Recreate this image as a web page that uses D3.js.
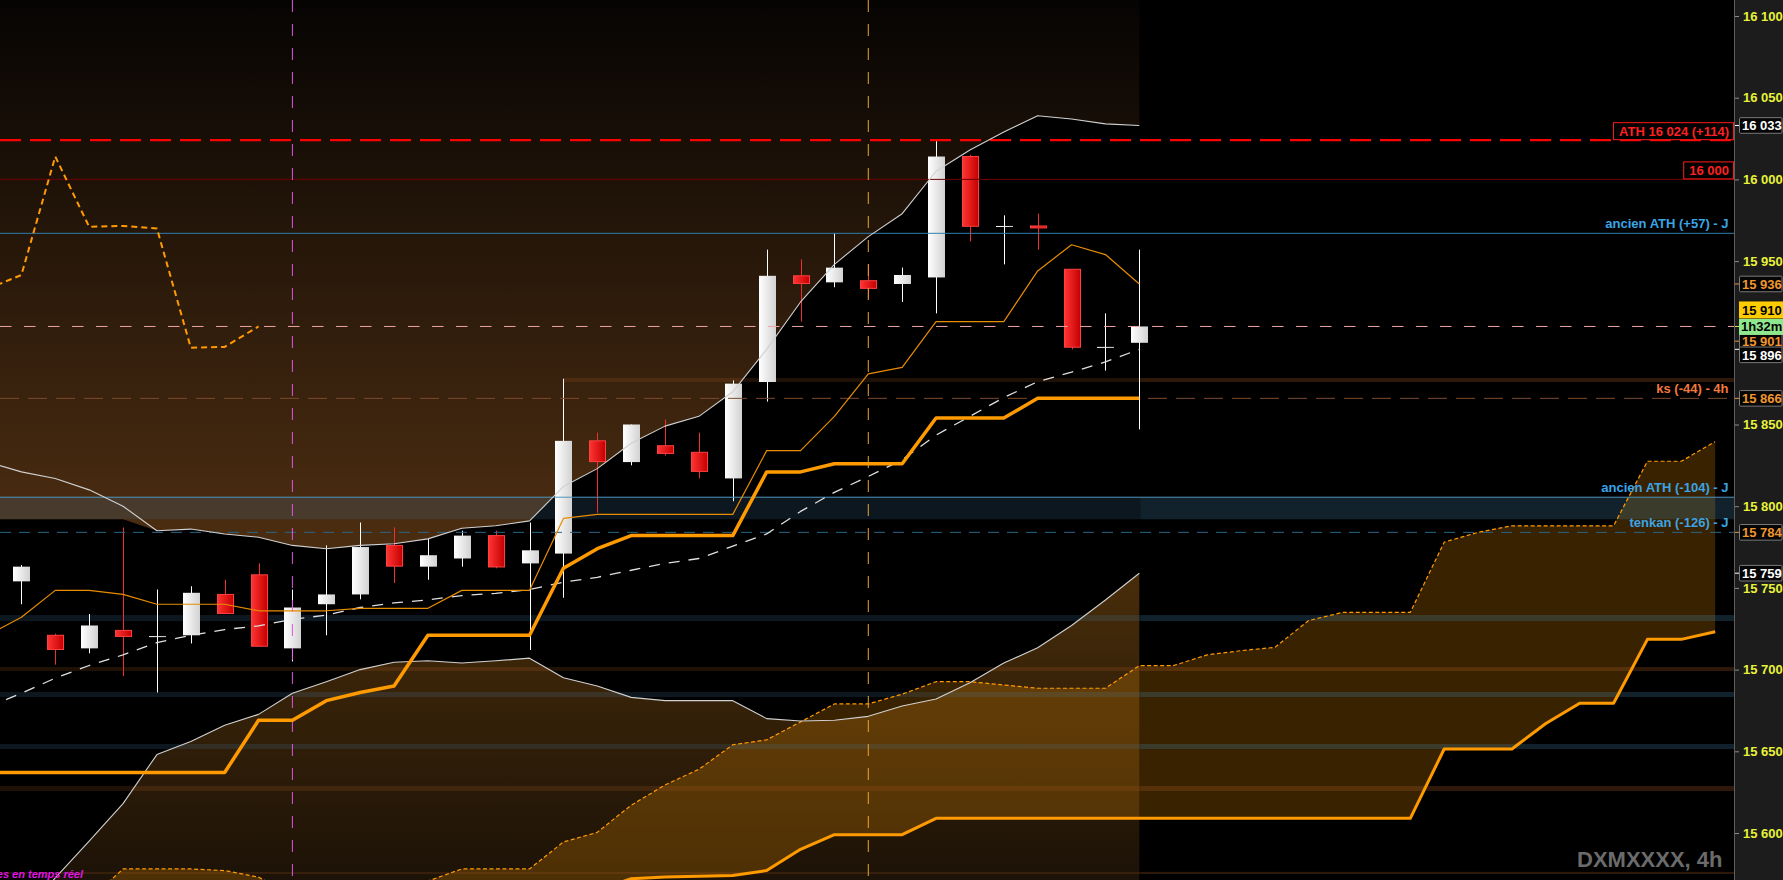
<!DOCTYPE html>
<html><head><meta charset="utf-8">
<script src="https://cdn.jsdelivr.net/npm/d3@7"></script>
<style>
html,body{margin:0;padding:0;background:#000;overflow:hidden}
svg{display:block}
text{font-family:"Liberation Sans",Arial,sans-serif;font-weight:bold}
</style></head><body>
<svg id="chart" width="1783" height="880"></svg>
<script>
// ---------- DATA (4h candles, index 0..33) ----------
const candleOpen  = [15754,15721,15713,15724,15720,15721,15746,15758,15713,15740,15746,15776,15763,15768,15782,15765,15771,15840,15827,15837,15833,15817,15876,15941,15937,15938,15936,15940,16014,15971,15971.5,15945,15897,15900];
const candleHigh  = [15764,15722,15734,15787,15749,15751,15755,15765,15749,15776,15790,15787,15780,15785,15785,15790,15878,15845,15850,15853,15845,15877,15957,15951,15967,15948,15946,16024,16015,15978,15979,15945,15918,15957];
const candleLow   = [15740,15703,15710,15696,15686,15716,15734,15714,15705,15721,15743,15753,15755,15763,15762,15712,15744,15796,15825,15831,15817,15803,15864,15913,15934,15927,15925,15918,15962,15948,15957,15896,15883,15847];
const candleClose = [15763,15712,15727,15720,15720.5,15747,15734,15714,15738,15746,15775,15763,15770,15782,15762.5,15773,15840,15827,15850,15832,15821,15875,15941,15936,15946,15933,15941.5,16014,15971,15971.5,15970,15897,15897.5,15910];

// Bollinger bands, index -1..33
const bbUpper  = [15827,15821,15817,15810,15800,15785,15786,15783,15781,15776,15774,15776,15777,15780,15786.5,15788,15791,15812,15823,15838.5,15849,15855,15870,15896,15925,15948,15965,15979,16005,16018,16029,16039,16037,16034,16033];
const bbMiddle = [15677,15685.5,15694.8,15702.5,15709,15716.5,15721,15724.5,15726.8,15730.8,15733.3,15738,15740.8,15742.7,15745.3,15746.7,15749,15753.5,15756.5,15760.8,15765,15768,15775.5,15783,15796.8,15808.5,15818.2,15828.4,15843.5,15855,15866.5,15876.2,15882,15888.3,15896];
const bbLower  = [15527,15550,15572.5,15595,15618,15648,15656,15666,15672.6,15685.5,15692.6,15700,15704.5,15705.4,15704,15705.4,15707,15695,15690,15683,15681,15681,15681,15670,15668.5,15669,15671.4,15677.7,15682,15692,15704,15713.4,15727,15742.6,15759];
// upper shaded area floor, index -1..3
const upperFillFloor = [15792,15792,15792,15792,15792];

// Ichimoku
const tenkan = [15721,15732,15748.5,15748.5,15746,15740,15740,15740,15736,15736,15736,15737.5,15737.5,15737.5,15748.5,15748.5,15748.5,15792.5,15795,15795,15795,15795,15795,15834,15834,15855,15881,15885,15913,15913,15913,15944,15960,15954,15936]; // -1..33
const kijun  = [15637,15637,15637,15637,15637,15637,15637,15637,15669,15669,15681,15686,15690,15721,15721,15721,15721,15762,15774,15782,15782,15782,15782,15821,15821,15826,15826,15826,15854,15854,15854,15866,15866,15866,15866]; // -1..33
const chikou = [15933,15941.5,16014,15971,15971.5,15970,15897,15897.5,15910]; // -1..7
const senkouA = [15559,15578,15578,15578,15577,15573,15562,15555,15552,15558,15570.6,15578,15578,15578,15594.5,15600.4,15617,15629.4,15639,15654,15657,15668,15679,15679,15685,15692.6,15692.6,15690.6,15688.6,15688.6,15688.6,15702.4,15702.4,15709,15711.6,15713.6,15730,15735,15735,15735,15778,15784,15788,15788,15788,15788,15827.5,15827.5,15839.5]; // 2..50
const senkouB = [15565,15572,15573,15573.5,15574,15577,15590,15599,15599,15599,15609,15609,15609,15609,15609,15609,15609,15609,15609,15609,15609,15609,15609,15609,15609,15651.4,15651.4,15651.4,15667,15679.4,15679.4,15718.5,15718.5,15723.2]; // 17..50

const priceTicks = [16100,16050,16000,15950,15850,15800,15750,15700,15650,15600];

// horizontal zones [low, high, kind, fromIndex]
const zoneLow  = [15792,15876,15729.7,15699.1,15683.2,15651.4,15625.7,15574.9];
const zoneHigh = [15805.5,15878.5,15733.4,15701.6,15686.3,15654.5,15628.8,15576.2];
const zoneKind = ['blue','brown','blue','brown','blue','blue','brown','brown'];
const zoneFrom = [null,16,null,null,null,null,null,null];

// level lines
const athLevel = 16024, roundLevel = 16000, oldAthUp = 15967, lastPrice = 15910, ksLevel = 15866, oldAthDown = 15805.5, tenkanDaily = 15784;
const lineLabels = [
  {v: oldAthUp,   text: "ancien ATH (+57) - J", kind: "blue"},
  {v: ksLevel,    text: "ks (-44) - 4h",        kind: "orange"},
  {v: oldAthDown, text: "ancien ATH (-104) - J",kind: "blue"},
  {v: tenkanDaily,text: "tenkan (-126) - J",    kind: "blue"}
];
const vLineIdx = [8, 25];

// axis tags
const tagValues = [16033, 15936, 15901, 15896, 15866, 15784, 15759];
const tagTexts  = ["16 033","15 936","15 901","15 896","15 866","15 784","15 759"];
const tagKinds  = ["white","orange","orange","white","orange","orange","white"];

// ---------- DRAW ----------
const W = 1734, H = 880, FULLW = 1783;
const svg = d3.select("#chart");
const x = d3.scaleLinear().domain([0, 33]).range([21.4, 1139.3]);
const y = d3.scaleLinear().domain([15600, 16100]).range([833, 16]);
const fmt = v => d3.format(",d")(Math.round(v)).replace(",", " ");
const ser = (start, arr) => arr.map((v, k) => ({i: start + k, v}));

const defs = svg.append("defs");
defs.append("clipPath").attr("id","plotclip").append("rect").attr("x",0).attr("y",0).attr("width",W).attr("height",H);
const tg = defs.append("linearGradient").attr("id","topg").attr("gradientUnits","userSpaceOnUse").attr("x1",0).attr("y1",0).attr("x2",0).attr("y2",520);
tg.append("stop").attr("offset",0).attr("stop-color","#060403");
tg.append("stop").attr("offset",1).attr("stop-color","#4a2c11");
const bg = defs.append("linearGradient").attr("id","botg").attr("gradientUnits","userSpaceOnUse").attr("x1",0).attr("y1",560).attr("x2",0).attr("y2",880);
bg.append("stop").attr("offset",0).attr("stop-color","#4a2e0a");
bg.append("stop").attr("offset",1).attr("stop-color","#1c1207");
const wg = defs.append("linearGradient").attr("id","wg").attr("x1",0).attr("y1",0).attr("x2",1).attr("y2",0);
wg.append("stop").attr("offset",0).attr("stop-color","#ffffff");
wg.append("stop").attr("offset",1).attr("stop-color","#d2d2d2");
const rg = defs.append("linearGradient").attr("id","rg").attr("x1",0).attr("y1",0).attr("x2",1).attr("y2",0);
rg.append("stop").attr("offset",0).attr("stop-color","#ff3434");
rg.append("stop").attr("offset",1).attr("stop-color","#c40000");

svg.append("rect").attr("width",FULLW).attr("height",H).attr("fill","#000");
const plot = svg.append("g").attr("clip-path","url(#plotclip)");

// shaded areas around the bands
const topEdge = ser(-1, upperFillFloor).concat(ser(4, bbUpper.slice(5)));
plot.append("path").datum(topEdge)
  .attr("d", d3.area().x(d=>x(d.i)).y0(0).y1(d=>y(d.v)))
  .attr("fill","url(#topg)");
plot.append("path").datum(ser(-1, bbLower))
  .attr("d", d3.area().x(d=>x(d.i)).y0(d=>y(d.v)).y1(H))
  .attr("fill","url(#botg)");

// kumo
const bMap = new Map(ser(17, senkouB).map(d => [d.i, d.v]));
const kumo = ser(2, senkouA).map(d => ({i: d.i, a: d.v, b: bMap.has(d.i) ? bMap.get(d.i) : null}));
plot.append("path").datum(kumo)
  .attr("d", d3.area().x(d=>x(d.i)).y0(d=>y(d.a)).y1(d=> d.b===null ? H : y(d.b)))
  .attr("fill","rgba(255,155,0,0.22)");

// zones
const zoneFill = {blue: "rgba(70,130,170,0.26)", brown: "rgba(190,100,40,0.24)"};
zoneLow.forEach((lo, k) => {
  const x0 = zoneFrom[k] === null ? 0 : x(zoneFrom[k]);
  const yt = y(zoneHigh[k]), yb = y(lo);
  const lastX = x(33) + 1;
  if (x0 < lastX) plot.append("rect").attr("x",x0).attr("y",yt).attr("width",lastX-x0).attr("height",yb-yt)
      .attr("fill",zoneFill[zoneKind[k]]).attr("opacity",0.7);
  plot.append("rect").attr("x",Math.max(x0,lastX)).attr("y",yt).attr("width",W-Math.max(x0,lastX)).attr("height",yb-yt)
      .attr("fill",zoneFill[zoneKind[k]]);
});

// candles
const cg = plot.append("g");
candleOpen.forEach((o, i) => {
  const c = candleClose[i], h = candleHigh[i], l = candleLow[i];
  const up = c >= o;
  const cx = Math.round(x(i)) + 0.5;
  cg.append("line").attr("x1",cx).attr("x2",cx).attr("y1",y(h)).attr("y2",y(l))
    .attr("stroke", up ? "#ffffff" : "#f03030").attr("stroke-width",1);
  const top = y(Math.max(o,c)), bot = y(Math.min(o,c));
  const bh = Math.max(1, bot - top);
  if (up) {
    cg.append("rect").attr("x",cx-8.5).attr("y",top).attr("width",17).attr("height",bh).attr("fill","url(#wg)");
  } else {
    cg.append("rect").attr("x",cx-8).attr("y",top).attr("width",16).attr("height",Math.max(1,bh-0.5))
      .attr("fill","url(#rg)").attr("stroke","#ff4040").attr("stroke-width",1);
  }
});

// horizontal level lines
const hline = (v, color, w, dash, op) => plot.append("line").attr("x1",0).attr("x2",W)
  .attr("y1",y(v)).attr("y2",y(v)).attr("stroke",color).attr("stroke-width",w)
  .attr("stroke-dasharray",dash||null).attr("opacity",op||1);
hline(roundLevel, "#6e0000", 1);
hline(oldAthUp, "#2f7fae", 1);
hline(oldAthDown, "#4f95bd", 1);
hline(tenkanDaily, "#2a6686", 1, "11,8");
hline(ksLevel, "#7c4a2c", 1, "19,9");
hline(lastPrice, "#f0a4a4", 1, "11.5,12.5");
hline(athLevel, "#ff0000", 2.2, "21,9");

// vertical separators
plot.append("line").attr("x1",x(vLineIdx[0])).attr("x2",x(vLineIdx[0])).attr("y1",0).attr("y2",H)
  .attr("stroke","#e055e0").attr("stroke-width",1).attr("stroke-dasharray","12,12");
plot.append("line").attr("x1",x(vLineIdx[1])).attr("x2",x(vLineIdx[1])).attr("y1",0).attr("y2",H)
  .attr("stroke","#e8a630").attr("stroke-width",1).attr("stroke-dasharray","12,12");

// indicator lines
const ln = d3.line().x(d=>x(d.i)).y(d=>y(d.v));
const drawLine = (data, color, w, dash) => plot.append("path").datum(data).attr("d", ln)
  .attr("fill","none").attr("stroke",color).attr("stroke-width",w).attr("stroke-dasharray",dash||null)
  .attr("stroke-linejoin","round");
drawLine(ser(2, senkouA), "#ff9a00", 1.2, "4,2.5");
drawLine(ser(17, senkouB), "#ff9a00", 3);
drawLine(ser(-1, bbUpper), "#d0d0d0", 1.1);
drawLine(ser(-1, bbLower), "#d0d0d0", 1.1);
drawLine(ser(-1, bbMiddle), "#e0e0e0", 1.3, "11,9");
drawLine(ser(-1, tenkan), "#e88c00", 1.2);
drawLine(ser(-1, kijun), "#ff9a00", 3.5);
drawLine(ser(-1, chikou), "#ff9a00", 2, "6,4");

// level labels
const labelColor = {blue: "#3ba4e6", orange: "#f2783c"};
lineLabels.forEach(L => {
  plot.append("text").attr("x",1728.5).attr("y",y(L.v)-5.5).attr("text-anchor","end")
    .attr("font-size",13).attr("fill",labelColor[L.kind]).text(L.text);
});
// red boxed labels
const boxed = (v, txt) => {
  const t = plot.append("text").attr("x",1729).attr("y",y(v)-4.5).attr("text-anchor","end")
    .attr("font-size",13).attr("fill","#ff2020").text(txt);
  const wdt = t.node().getComputedTextLength();
  plot.insert("rect", () => t.node()).attr("x",1729-wdt-5.5).attr("y",y(v)-17.5).attr("width",wdt+10)
    .attr("height",17).attr("fill","#000").attr("stroke","#ff1a1a").attr("stroke-width",1);
};
boxed(athLevel, "ATH " + fmt(athLevel) + " (+" + (athLevel - lastPrice) + ")");
boxed(roundLevel, fmt(roundLevel));

// watermark and status text
plot.append("text").attr("x",1722.5).attr("y",866.5).attr("text-anchor","end").attr("font-size",22)
  .attr("fill","#6b6b6b").text("DXMXXXX, 4h");
plot.append("text").attr("x",83).attr("y",877.5).attr("text-anchor","end").attr("font-size",11)
  .attr("font-style","italic").attr("font-weight","normal").attr("fill","#e014e0").text("Données en temps réel");

// ---------- right axis ----------
const ax = svg.append("g");
ax.append("rect").attr("x",W).attr("y",0).attr("width",FULLW-W).attr("height",H).attr("fill","#1c1c1c");
ax.append("line").attr("x1",W+0.5).attr("x2",W+0.5).attr("y1",0).attr("y2",H).attr("stroke","#5e5e5e");
const yAxis = d3.axisRight(y).tickValues(priceTicks).tickSize(4).tickPadding(4).tickFormat(fmt);
const axg = ax.append("g").attr("transform",`translate(${W+1},0)`).call(yAxis);
axg.select(".domain").remove();
axg.selectAll(".tick line").attr("stroke","#8a8a8a");
axg.selectAll(".tick text").attr("fill","#e8f238").attr("font-size",13)
  .attr("font-family","'Liberation Sans',Arial,sans-serif").attr("font-weight","bold");

const tagStyle = {white: {fg:"#ffffff", tick:"#ffffff"}, orange: {fg:"#f0962c", tick:"#f0962c"}};
const tagOffset = {"15 896": 5.5, "15 901": 0};
const drawTag = (v, txt, kind) => {
  const cy = y(v) + (tagOffset[txt] || 0);
  ax.append("line").attr("x1",W+1).attr("x2",W+5).attr("y1",y(v)).attr("y2",y(v)).attr("stroke",tagStyle[kind].tick);
  ax.append("rect").attr("x",W+5.5).attr("y",cy-7.8).attr("width",42.5).attr("height",15.6)
    .attr("fill","#050505").attr("stroke","#7a7a7a").attr("stroke-width",1).attr("rx",1);
  ax.append("text").attr("x",W+8).attr("y",cy+5).attr("font-size",13).attr("fill",tagStyle[kind].fg).text(txt);
};
tagValues.forEach((v, k) => drawTag(v, tagTexts[k], tagKinds[k]));

// last price + countdown
const cy0 = y(lastPrice);
ax.append("line").attr("x1",W+1).attr("x2",W+5).attr("y1",cy0).attr("y2",cy0).attr("stroke","#d8e860");
ax.append("rect").attr("x",W+5).attr("y",cy0-25).attr("width",FULLW-W-5).attr("height",17).attr("fill","#ffcc00");
ax.append("text").attr("x",W+8).attr("y",cy0-11.5).attr("font-size",13).attr("fill","#000").text(fmt(lastPrice));
ax.append("rect").attr("x",W+5).attr("y",cy0-7.5).attr("width",FULLW-W-5).attr("height",16).attr("fill","#8ee88e");
ax.append("text").attr("x",W+7).attr("y",cy0+5).attr("font-size",13).attr("fill","#000").text("1h32m");
</script>
</body></html>
